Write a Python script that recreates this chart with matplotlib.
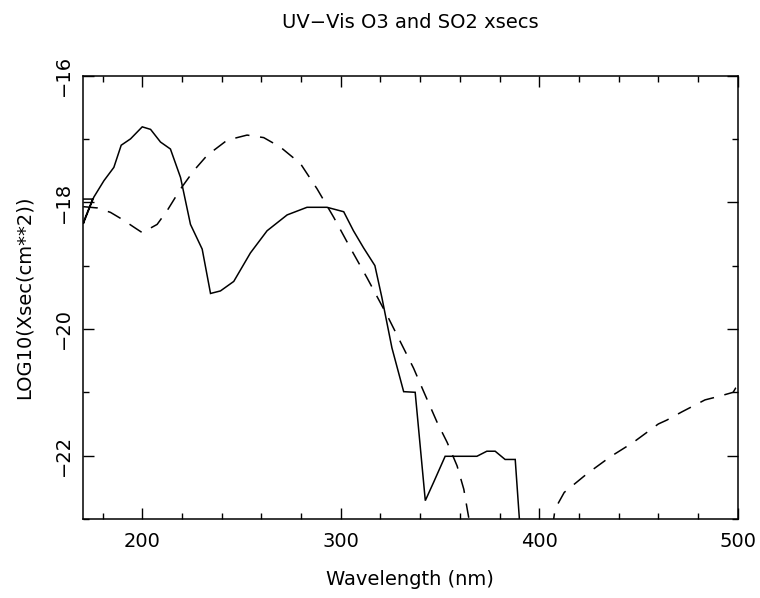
import numpy as np
import matplotlib
matplotlib.use('Agg')
import matplotlib.pyplot as plt
from matplotlib.ticker import MultipleLocator

# SO2 cross sections (solid), log10 cm^2
so2_wl = [170, 175, 170.8, 170.3, 175.6, 180.7, 185.7, 189.4, 194.1, 200, 204.2,
          209.2, 214.2, 219.3, 224.3, 230.2, 234.4, 239.4, 246.1, 254.5, 262.9,
          273, 283, 293.1, 301.5, 306.4, 311.5, 317.2, 320.7, 325.8, 331.7,
          337.5, 342.6, 346.8, 352.6, 368.6, 373.6, 377.8, 382.8, 387.9, 390, 391]
so2_xs = [-17.95, -17.95, -18.28, -18.34, -17.92, -17.66, -17.45, -17.10, -17.0, -16.81, -16.85,
          -17.05, -17.16, -17.61, -18.35, -18.74, -19.44, -19.40, -19.25, -18.80, -18.45,
          -18.20, -18.08, -18.08, -18.15, -18.45, -18.72, -19.0, -19.5, -20.3, -20.99,
          -21.0, -22.71, -22.42, -22.01, -22.01, -21.93, -21.93, -22.06, -22.06, -23.0, -23.5]

# O3 cross sections (dashed)
o3_wl = [170.3, 177.4, 184, 189.9, 196.6, 200, 207.5, 212.6, 219.3, 226, 232.7,
         242.8, 252.8, 261.2, 269.6, 279.7, 288.1, 296.5, 304.8, 313.2, 323.6,
         330, 336.7, 341.8, 348.5, 353.6, 358.6, 362, 363.7, 368, 405, 408,
         412.6, 423.9, 435.7, 447.4, 460, 464.2, 471.8, 483.5, 491, 497.7, 499, 500]
o3_xs = [-18.07, -18.09, -18.16, -18.27, -18.41, -18.48, -18.35, -18.13, -17.79, -17.5, -17.26,
         -17.02, -16.94, -16.98, -17.13, -17.39, -17.79, -18.24, -18.72, -19.19, -19.8,
         -20.2, -20.62, -20.99, -21.47, -21.79, -22.16, -22.53, -22.84, -23.6, -23.5, -22.84,
         -22.58, -22.29, -22.02, -21.79, -21.5, -21.44, -21.31, -21.12, -21.06, -21.0, -20.93, -20.9]

x_ticks = [200, 300, 400, 500]
y_ticks = [-16, -18, -20, -22]

plt.rcParams['font.family'] = ['DejaVu Sans']
fig = plt.figure(figsize=(7.6, 5.98), dpi=100)
ax = fig.add_axes([0.1088, 0.1321, 0.8619, 0.7416])

ax.plot(so2_wl, so2_xs, color='black', lw=1.1, solid_joinstyle='miter')
ax.plot(o3_wl, o3_xs, color='black', lw=1.1, dashes=(9.5, 7))

ax.set_xlim(170, 500)
ax.set_ylim(-23, -16)
ax.set_xticks(x_ticks)
ax.set_yticks(y_ticks)
ax.set_yticklabels([str(v).replace('-', '\u2212') for v in y_ticks], rotation=90, va='center')
ax.xaxis.set_minor_locator(MultipleLocator(20))
ax.yaxis.set_minor_locator(MultipleLocator(1))
ax.tick_params(which='both', direction='in', top=True, right=True, labelsize=14, width=1)
ax.tick_params(which='major', length=8, pad=9)
ax.tick_params(which='minor', length=4.3)
ax.tick_params(axis='y', pad=7)
for s in ax.spines.values():
    s.set_linewidth(1.1)

ax.set_xlabel('Wavelength (nm)', fontsize=14, labelpad=14)
ax.set_ylabel('LOG10(Xsec(cm**2))', fontsize=14, labelpad=15)
ax.set_title('UV\u2212Vis O3 and SO2 xsecs', fontsize=14, pad=34)

fig.savefig('out.png', dpi=100)
